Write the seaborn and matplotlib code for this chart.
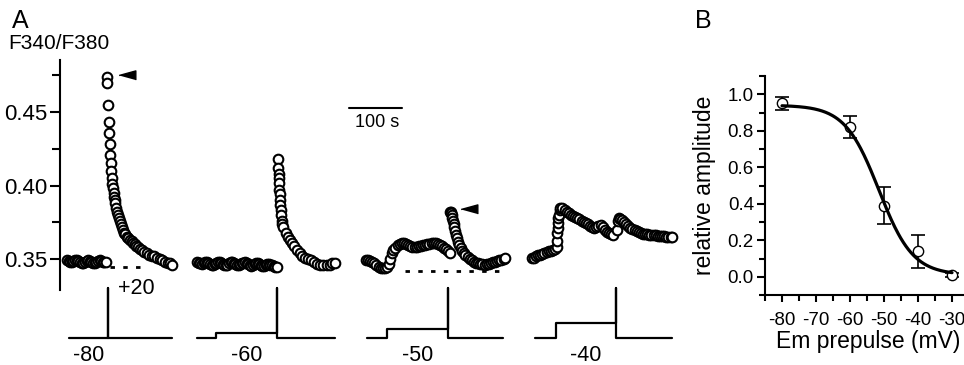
import numpy as np
import matplotlib
matplotlib.use("Agg")
import matplotlib.pyplot as plt
import seaborn as sns

# ---------------- data ----------------
# panel A: F340/F380 ratio traces, time in s
t1_base_span = (13, 87)
v1_base = [.3490, .3486, .3480, .3478, .3484, .3492, .3494, .3488, .3480, .3475,
           .3474, .3480, .3488, .3492, .3488, .3480, .3474, .3472, .3478, .3486,
           .3490, .3487, .3481, .3478, .3480]
t1_resp = [89, 89.5, 91, 92, 93, 94, 95, 96, 97, 98,
           99, 100, 101, 102, 103, 104.5, 106, 107.5, 109, 111,
           113, 115, 117, 119, 121, 123, 126, 129, 132, 135,
           138, 141, 144, 147, 151, 155, 159, 164, 168, 173,
           178, 183, 188, 193, 198, 203, 207, 211]
v1_resp = [.474, .470, .455, .443, .436, .428, .421, .415, .410, .405,
           .401, .398, .395, .392, .390, .388, .385, .382, .380, .378,
           .376, .374, .372, .370, .368, .367, .365, .364, .363, .362,
           .361, .360, .359, .358, .357, .356, .355, .354, .353, .352,
           .352, .351, .350, .349, .348, .347, .347, .346]

t2_base_span = (259, 409)
v2_base = [.3480, .3475, .3470, .3466, .3470, .3478, .3482, .3476, .3468, .3460,
           .3458, .3465, .3472, .3478, .3480, .3474, .3466, .3460, .3456, .3462,
           .3470, .3477, .3481, .3476, .3468, .3462, .3458, .3463, .3470, .3476,
           .3479, .3473, .3465, .3458, .3455, .3460, .3467, .3472, .3474, .3468,
           .3460, .3454, .3452, .3457, .3463, .3466, .3462, .3456, .3451, .3448,
           .3446]
t2_resp = [411.5, 412, 412.5, 413, 413.5, 414, 414.5, 415, 415.7, 416.5,
           417.5, 418.5, 419.5, 421, 427, 431, 434, 438, 442, 447,
           452, 457, 462, 467, 473, 479, 485, 491, 497, 503,
           509, 514, 519]
v2_resp = [.418, .412, .408, .405, .402, .397, .394, .390, .387, .383,
           .380, .376, .374, .372, .368, .365, .363, .361, .359, .356,
           .354, .352, .351, .350, .349, .348, .3465, .346, .346, .346,
           .346, .347, .347]

t3 = [577, 581, 585, 589, 593, 597, 601, 605, 609, 613,
      617, 620, 623, 626, 629, 633, 637, 641, 645, 649,
      653, 657, 661, 665, 669, 673, 677, 681, 685, 689,
      693, 697, 701, 705, 709, 713, 717, 721, 725, 729,
      733, 736,
      736.5, 737.5, 738.5, 739.5, 740.5, 741.5, 742.5, 744, 745.5, 747,
      749, 751, 753, 756, 759, 762, 765, 769, 773, 777,
      781, 785, 789, 793, 797, 801, 805, 809, 813, 817,
      821, 825, 829, 833, 837, 840]
v3 = [.3490, .3492, .3488, .3480, .3470, .3460, .3448, .3440, .3436, .3436,
      .3445, .3465, .3500, .3540, .3562, .3578, .3592, .3603, .3610, .3608,
      .3600, .3595, .3588, .3582, .3580, .3583, .3587, .3590, .3593, .3596,
      .3600, .3605, .3608, .3610, .3609, .3603, .3595, .3588, .3578, .3566,
      .3552, .3540,
      .3820, .3822, .3815, .3800, .3780, .3760, .3740, .3715, .3690, .3665,
      .3640, .3615, .3595, .3572, .3553, .3538, .3526, .3512, .3500, .3490,
      .3482, .3476, .3470, .3466, .3463, .3462, .3464, .3468, .3473, .3478,
      .3482, .3486, .3490, .3495, .3500, .3505]

t4 = [890, 894, 898, 902, 906, 910, 914, 918, 922, 926,
      930, 934, 937, 938, 938.5, 939, 939.5, 940, 941, 942.5,
      944, 948, 952, 956, 960, 964, 968, 972, 976, 980,
      984, 988, 992, 996, 1000, 1004, 1008, 1012, 1016, 1020,
      1024, 1028, 1032, 1036, 1040, 1044, 1050, 1052, 1054, 1057,
      1060, 1064, 1068, 1072, 1076, 1080, 1084, 1088, 1092, 1096,
      1100, 1104, 1108, 1112, 1116, 1120, 1124, 1128, 1132, 1136,
      1140, 1144, 1148, 1152, 1155]
v4 = [.3505, .3510, .3518, .3525, .3530, .3535, .3540, .3546, .3552, .3557,
      .3560, .3565, .3580, .3620, .3677, .3710, .3745, .3780, .3800, .3830,
      .3847, .3845, .3835, .3822, .3810, .3800, .3792, .3785, .3778, .3770,
      .3760, .3752, .3745, .3735, .3725, .3715, .3710, .3715, .3725, .3728,
      .3718, .3700, .3685, .3676, .3668, .3665, .3700, .3760, .3780, .3775,
      .3765, .3752, .3738, .3725, .3712, .3702, .3695, .3688, .3682, .3677,
      .3673, .3670, .3667, .3665, .3663, .3662, .3660, .3658, .3656, .3655,
      .3654, .3653, .3652, .3651, .3652]

# dotted baselines (t_start, t_end, value)
baselines = [(94, 160, 0.3445), (651, 830, 0.3418)]
# arrowheads marking peaks (t, value)
arrows_t = [125.5, 771]
arrows_v = [0.4752, 0.384]

# voltage protocols under each trace (schematic step levels)
proto_labels = ["-80", "-60", "-50", "-40"]
proto_start = [17, 258.5, 579, 896]
proto_step = [17, 294, 617, 936]
proto_pulse = [90.6, 409.5, 732, 1049]
proto_end = [211, 519, 836, 1155]
proto_level = [0, 0.10, 0.18, 0.30]

# panel B: relative amplitude vs prepulse
em = [-80, -60, -50, -40, -30]
amp = [0.95, 0.82, 0.39, 0.14, 0.01]
amp_err = [0.035, 0.06, 0.10, 0.09, 0.01]
# Boltzmann fit parameters
fit_top, fit_bottom, fit_v50, fit_k = 0.94, 0.01, -51.5, 5.0

# ---------------- figure ----------------
sns.set_style("ticks")
plt.rcParams["font.family"] = ["Liberation Sans", "DejaVu Sans"]
plt.rcParams["axes.linewidth"] = 1.5
for key in ["text.color", "axes.labelcolor", "xtick.color", "ytick.color",
            "axes.edgecolor"]:
    plt.rcParams[key] = "black"

W, H = 964, 365
fig = plt.figure(figsize=(W / 100, H / 100), dpi=100)

def box(x0, y_top, x1, y_bot):
    return [x0 / W, 1 - y_bot / H, (x1 - x0) / W, (y_bot - y_top) / H]

axA = fig.add_axes(box(60, 60, 690, 290))
axP = fig.add_axes(box(60, 280, 690, 345), sharex=axA)
axB = fig.add_axes(box(765, 76, 969, 295))

# traces
traces = [
    (np.concatenate([np.linspace(*t1_base_span, len(v1_base)), t1_resp]), v1_base + v1_resp),
    (np.concatenate([np.linspace(*t2_base_span, len(v2_base)), t2_resp]), v2_base + v2_resp),
    (np.array(t3), v3),
    (np.array(t4), v4),
]
for t, v in traces:
    sns.scatterplot(x=t, y=v, ax=axA, s=48, color="white", edgecolor="black",
                    linewidth=1.5, zorder=3, legend=False)

for t0, t1, b in baselines:
    axA.plot([t0, t1], [b, b], color="black", lw=2, ls=(0, (1.6, 3.0)), zorder=2)

tri = [(-1, 0), (1, 0.55), (1, -0.55)]
axA.plot(arrows_t, arrows_v, ls="none", marker=tri, ms=12, color="black")

# 100 s scale bar
bar_t0, bar_len, bar_v = 545, 100, 0.4527
axA.plot([bar_t0, bar_t0 + bar_len], [bar_v, bar_v], color="black", lw=1.5)
axA.text(bar_t0 + bar_len / 2 + 3, 0.4432, "100 s", ha="center", va="center", fontsize=13)

axA.set_xlim(0, 630 * 100 / 53)
axA.set_ylim(0.3289, 0.4854)
axA.set_yticks([0.35, 0.40, 0.45])
axA.set_yticklabels(["0.35", "0.40", "0.45"])
axA.set_yticks([0.375, 0.425, 0.475], minor=True)
axA.tick_params(axis="y", which="major", direction="out", length=7, width=1.5,
                labelsize=16, pad=2)
axA.tick_params(axis="y", which="minor", direction="out", length=5.5, width=1.5)
for s in ["top", "right", "bottom"]:
    axA.spines[s].set_visible(False)
axA.xaxis.set_visible(False)
axA.set_xlabel("")
axA.set_ylabel("")

# protocols
for lab, a, st, p, e, lv in zip(proto_labels, proto_start, proto_step,
                                proto_pulse, proto_end, proto_level):
    xs = [a, st, st, p, p, p, e]
    ys = [0, 0, lv, lv, 1, 0, 0]
    sns.lineplot(x=xs, y=ys, ax=axP, sort=False, estimator=None, color="black", lw=1.6)
    axP.text((st + p) / 2, -0.16, lab, ha="center", va="top", fontsize=15.5)
axP.text(proto_pulse[0] + 18, 0.98, "+20", ha="left", va="center", fontsize=15.5)
axP.set_ylim(-0.1515, 1.1616)
axP.axis("off")

# panel B
vv = np.linspace(-80, -30, 200)
fit = fit_bottom + (fit_top - fit_bottom) / (1 + np.exp((vv - fit_v50) / fit_k))
axB.errorbar(em, amp, yerr=amp_err, fmt="none", ecolor="black", elinewidth=1.2,
             capsize=5, capthick=1.2, zorder=2)
sns.scatterplot(x=em, y=amp, ax=axB, s=55, color="white", edgecolor="black",
                linewidth=1.0, zorder=3, legend=False)
sns.lineplot(x=vv, y=fit, ax=axB, color="black", lw=2.3, zorder=4)
axB.set_xlim(-85, -25)
axB.set_ylim(-0.1, 1.1)
axB.set_xticks(np.arange(-80, -29, 10))
axB.set_xticklabels([str(x) for x in range(-80, -29, 10)])
axB.set_xticks(np.arange(-85, -24, 10), minor=True)
axB.set_yticks(np.arange(0, 1.01, 0.2))
axB.set_yticklabels(["%.1f" % y for y in np.arange(0, 1.01, 0.2)])
axB.set_yticks(np.arange(-0.1, 1.11, 0.2), minor=True)
axB.tick_params(axis="y", which="major", direction="out", length=6, width=1.5,
                labelsize=13.5, pad=2)
axB.tick_params(axis="y", which="minor", direction="out", length=4, width=1.5)
axB.tick_params(axis="x", which="major", direction="out", length=5, width=1.5,
                labelsize=13.5, pad=7)
axB.tick_params(axis="x", which="minor", direction="out", length=4, width=1.5)
axB.spines["top"].set_visible(False)
axB.spines["right"].set_visible(False)
axB.set_ylabel("relative amplitude", fontsize=16.5)
axB.yaxis.set_label_coords(-0.24, 0.5)
axB.set_xlabel("Em prepulse (mV)", fontsize=16.5)
axB.xaxis.set_label_coords(0.505, -0.16)

fig.text(12 / W, 1 - 28 / H, "A", fontsize=18, ha="left", va="baseline")
fig.text(8 / W, 1 - 49 / H, "F340/F380", fontsize=15, ha="left", va="baseline")
fig.text(695 / W, 1 - 28 / H, "B", fontsize=18, ha="left", va="baseline")

fig.savefig("out.png", dpi=100)
